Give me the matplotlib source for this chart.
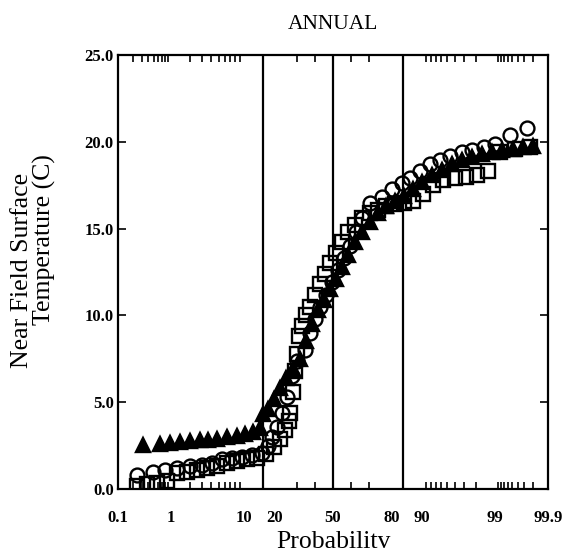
import matplotlib
matplotlib.use("Agg")
import matplotlib.pyplot as plt
import numpy as np
from statistics import NormalDist

plt.rcParams['font.family'] = ['Liberation Serif', 'DejaVu Serif']

# === 資料 (機率 %, 溫度 C) ===
tri_p = [0.32, 0.64, 0.96, 1.39, 2.0, 2.8, 3.6, 4.75, 6.4, 8.4, 10.4, 12.5, 14.7,
         15.6, 17.6, 19.8, 22.4, 24.8, 28.4, 31.9, 34.8, 38.2, 41.3, 44.8, 48.4,
         51.6, 55.2, 58.7, 62.6, 66.3, 70.2, 74.2, 77.6, 81.3, 84.6, 87.5, 90.0,
         92.2, 94.2, 95.6, 96.8, 97.7, 98.4, 98.9, 99.25, 99.52, 99.68, 99.8]
tri_t = [2.53, 2.6, 2.65, 2.7, 2.75, 2.8, 2.85, 2.9, 3.0, 3.05, 3.15, 3.3, 3.5,
         4.3, 4.6, 5.2, 5.8, 6.4, 6.9, 7.5, 8.5, 9.5, 10.3, 10.9, 11.5,
         12.1, 12.8, 13.5, 14.2, 14.8, 15.4, 15.9, 16.3, 16.6, 16.9, 17.3, 17.7,
         18.1, 18.4, 18.7, 18.95, 19.1, 19.3, 19.4, 19.5, 19.6, 19.7, 19.75]

circ_p = [0.24, 0.48, 0.80, 1.25, 2.0, 3.0, 4.1, 5.6, 7.35, 9.5, 12.3, 15.4,
          17.6, 18.9, 21.2, 23.3, 25.5, 27.8, 30.2, 34.5, 37.1, 39.7, 42.5, 46.0,
          49.6, 52.8, 56.4, 59.5, 62.9, 66.3, 70.2, 75.8, 80.2, 83.9, 86.7, 89.4,
          91.8, 93.8, 95.35, 96.8, 97.7, 98.5, 99.0, 99.45, 99.74]
circ_t = [0.8, 1.0, 1.1, 1.2, 1.3, 1.4, 1.5, 1.7, 1.8, 1.85, 1.95, 2.1,
          2.5, 3.0, 3.6, 4.4, 5.3, 6.5, 7.4, 8.0, 9.0, 9.8, 10.5, 11.2,
          11.9, 12.6, 13.3, 14.0, 14.8, 15.6, 16.5, 16.8, 17.3, 17.6, 17.9, 18.3,
          18.7, 18.95, 19.2, 19.4, 19.5, 19.7, 19.9, 20.4, 20.8]

sq_p = [0.24, 0.38, 0.57, 0.84, 1.25, 1.79, 2.56, 3.5, 4.75, 6.4, 8.4, 10.75,
        13.8, 16.9, 19.8, 22.4, 24.5, 26.4, 26.8, 28.4, 29.3, 30.2, 31.2, 32.6,
        34.8, 37.1, 39.7, 42.5, 45.6, 48.4, 51.6, 55.2, 58.7, 62.6, 66.3, 70.2,
        74.2, 77.6, 81.3, 84.6, 87.5, 90.1, 92.5, 94.3, 96.0, 97.2, 98.1, 98.7,
        99.18, 99.55, 99.77]
sq_t = [0.2, 0.3, 0.35, 0.45, 0.9, 1.0, 1.1, 1.2, 1.35, 1.5, 1.6, 1.7,
        1.8, 2.0, 2.4, 2.9, 3.4, 3.9, 4.4, 5.6, 6.8, 7.8, 8.8, 9.4,
        10.0, 10.5, 11.2, 11.8, 12.4, 13.0, 13.6, 14.2, 14.8, 15.2, 15.6, 15.9,
        16.1, 16.3, 16.4, 16.5, 16.6, 17.0, 17.5, 17.8, 17.9, 18.0, 18.1, 18.3,
        19.4, 19.6, 19.7]

major_p = [0.1, 1, 10, 20, 50, 80, 90, 99, 99.9]
major_lbl = ["0.1", "1", "10", "20", "50", "80", "90", "99", "99.9"]
minor_p = ([0.2, 0.3, 0.4, 0.5, 0.6, 0.7, 0.8, 0.9] + list(range(1, 11)) +
           [20, 30, 40, 60, 70, 80] + list(range(90, 100)) +
           [99.1, 99.2, 99.3, 99.4, 99.5, 99.6, 99.7, 99.8])
sigma_p = [15.87, 50, 84.13]
y_ticks = [0, 5, 10, 15, 20, 25]

nd = NormalDist()
def z(p):
    return np.array([nd.inv_cdf(v / 100.0) for v in p])

fig = plt.figure(figsize=(5.68, 5.52), dpi=100)
ax = fig.add_axes([118 / 568, 1 - 489 / 552, 430 / 568, 434 / 552])

# 1 sigma / 中位數 垂直線
for v in z(sigma_p):
    ax.axvline(v, color='black', lw=1.6, zorder=1)

mk = dict(linestyle='none', markersize=10, markeredgewidth=1.7, markeredgecolor='black')
ax.plot(z(sq_p), sq_t, marker='s', markerfacecolor='none', zorder=3, **mk)
ax.plot(z(circ_p), circ_t, marker='o', markerfacecolor='none', zorder=3, **mk)
ax.plot(z(tri_p), tri_t, marker='^', markerfacecolor='black', zorder=4, **mk)

ax.set_xlim(nd.inv_cdf(0.001), nd.inv_cdf(0.999))
ax.set_ylim(0, 25)

ax.set_xticks(z(major_p))
ax.set_xticklabels(major_lbl, fontsize=12, fontweight='bold')
ax.set_xticks(z(minor_p), minor=True)
ax.tick_params(axis='x', which='major', length=0, pad=15)
ax.tick_params(axis='x', which='minor', direction='in', length=5, width=1.2,
               top=True, bottom=True)

ax.set_yticks(y_ticks)
ax.set_yticklabels([f"{v:.1f}" for v in y_ticks], fontsize=12, fontweight='bold')
ax.tick_params(axis='y', direction='in', length=6, width=1.2, left=True, right=True, pad=3)

for s in ax.spines.values():
    s.set_linewidth(1.6)

ax.set_title("ANNUAL", fontsize=15.5, pad=19)
ax.set_xlabel("Probabilitv", fontsize=18.5, labelpad=4)
fig.text(22 / 568, 1 - 270 / 552, "Near Field Surface", rotation=90,
         ha='center', va='center', fontsize=18.5)
fig.text(44 / 568, 1 - 240 / 552, "Temperature (C)", rotation=90,
         ha='center', va='center', fontsize=18.5)

plt.savefig("out.png", dpi=100)
plt.close()
